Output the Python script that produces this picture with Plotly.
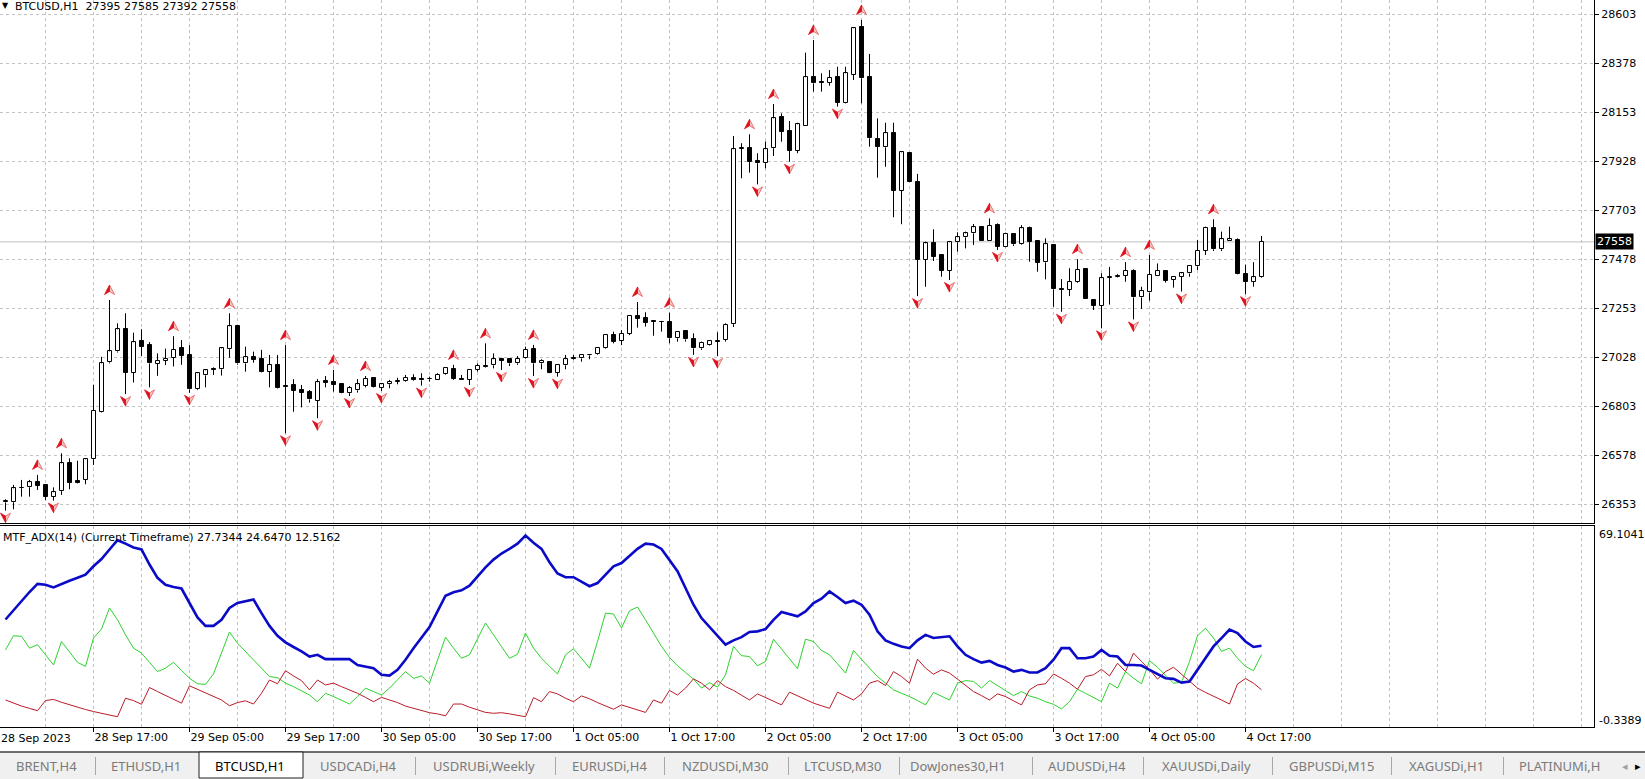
import plotly.graph_objects as go

W, H = 1645, 779

# ---------------- data (hourly bars, 28 Sep 06:00 .. 4 Oct 19:00) ----------------
open_ = [26362, 26362, 26429, 26431, 26454, 26440, 26388, 26413, 26541, 26460,
         26465, 26560, 26778, 27005, 27055, 27156, 26956, 27103, 27084, 26998,
         27013, 27025, 27070, 27037, 26881, 26945, 26976, 26973, 27065, 27170,
         27000, 27031, 27020, 26962, 26993, 26895, 26901, 26878, 26867, 26829,
         26919, 26913, 26905, 26863, 26876, 26898, 26933, 26888, 26904, 26915,
         26919, 26933, 26930, 26927, 26926, 26950, 26973, 26928, 26924, 26970,
         26990, 26991, 27022, 27019, 27000, 27023, 27065, 27000, 27008, 26958,
         26991, 27023, 27023, 27037, 27043, 27069, 27130, 27104, 27135, 27218,
         27207, 27195, 27192, 27189, 27115, 27149, 27110, 27069, 27084, 27104,
         27107, 27180, 27985, 27990, 27928, 27919, 27988, 28130, 28067, 27977,
         28091, 28314, 28292, 28289, 28314, 28197, 28324, 28543, 28314, 28029,
         27992, 28057, 27793, 27965, 27832, 27475, 27551, 27498, 27426, 27556,
         27579, 27597, 27628, 27563, 27635, 27533, 27594, 27547, 27620, 27562,
         27464, 27544, 27342, 27337, 27374, 27432, 27291, 27265, 27393, 27396,
         27403, 27426, 27303, 27326, 27403, 27424, 27383, 27398, 27413, 27446,
         27516, 27623, 27524, 27563, 27566, 27411, 27375, 27395]
high = [26376, 26442, 26465, 26465, 26488, 26441, 26431, 26587, 26564, 26553,
        26563, 26901, 27030, 27291, 27184, 27230, 27141, 27157, 27098, 27046,
        27068, 27125, 27107, 27084, 26958, 26972, 26982, 27072, 27230, 27175,
        27077, 27054, 27062, 27039, 27039, 27084, 26928, 26901, 26878, 26928,
        26942, 26970, 26910, 26896, 26928, 26942, 26937, 26909, 26924, 26934,
        26947, 26950, 26955, 26939, 26955, 26982, 26993, 26947, 26973, 27000,
        27092, 27046, 27026, 27021, 27034, 27077, 27085, 27019, 27011, 26996,
        27039, 27039, 27043, 27042, 27069, 27135, 27146, 27153, 27222, 27282,
        27235, 27199, 27195, 27233, 27146, 27150, 27138, 27100, 27107, 27143,
        27184, 28044, 28011, 28052, 27965, 28019, 28191, 28148, 28113, 28105,
        28427, 28485, 28332, 28347, 28362, 28362, 28542, 28577, 28421, 28125,
        28105, 28105, 27972, 27967, 27870, 27559, 27616, 27500, 27559, 27602,
        27605, 27640, 27631, 27666, 27643, 27600, 27597, 27635, 27628, 27566,
        27574, 27546, 27387, 27437, 27479, 27437, 27293, 27414, 27443, 27410,
        27465, 27432, 27352, 27498, 27459, 27426, 27401, 27415, 27452, 27567,
        27628, 27662, 27605, 27628, 27574, 27453, 27465, 27585]
low = [26324, 26330, 26388, 26388, 26419, 26373, 26370, 26396, 26422, 26449,
       26445, 26534, 26775, 27000, 27050, 26859, 26912, 27034, 26890, 26943,
       26992, 26986, 26993, 26865, 26877, 26890, 26947, 26944, 27026, 26994,
       26962, 27003, 26959, 26890, 26884, 26679, 26778, 26798, 26820, 26748,
       26890, 26870, 26863, 26850, 26866, 26890, 26888, 26873, 26886, 26904,
       26916, 26919, 26898, 26916, 26924, 26947, 26924, 26924, 26901, 26962,
       26981, 26977, 26970, 26988, 26993, 27020, 26942, 26973, 26955, 26939,
       26973, 27016, 27008, 27019, 27040, 27066, 27092, 27084, 27130, 27164,
       27169, 27127, 27146, 27092, 27100, 27100, 27039, 27062, 27082, 27034,
       27100, 27167, 27850, 27876, 27822, 27896, 27952, 28018, 27926, 27965,
       28091, 28248, 28248, 28275, 28179, 28194, 28301, 28194, 27995, 27853,
       27903, 27671, 27639, 27832, 27309, 27352, 27470, 27398, 27383, 27513,
       27528, 27544, 27562, 27562, 27521, 27532, 27539, 27544, 27467, 27421,
       27386, 27260, 27237, 27309, 27370, 27294, 27245, 27161, 27270, 27394,
       27375, 27202, 27250, 27288, 27401, 27371, 27348, 27330, 27398, 27429,
       27498, 27516, 27516, 27562, 27409, 27318, 27352, 27392]
close = [26366, 26426, 26427, 26454, 26439, 26388, 26408, 26541, 26451, 26451,
         26560, 26783, 27000, 27055, 27156, 26956, 27097, 27077, 27000, 27013,
         27022, 27062, 27036, 26881, 26955, 26968, 26970, 27069, 27170, 27000,
         27028, 27016, 26962, 26993, 26886, 26893, 26875, 26865, 26835, 26913,
         26911, 26901, 26865, 26886, 26904, 26928, 26890, 26904, 26916, 26919,
         26933, 26922, 26922, 26929, 26947, 26979, 26928, 26926, 26970, 26988,
         26985, 27019, 27012, 27000, 27020, 27062, 27000, 27011, 26958, 26993,
         27019, 27019, 27039, 27039, 27069, 27130, 27100, 27135, 27219, 27205,
         27187, 27190, 27190, 27115, 27146, 27110, 27069, 27095, 27103, 27100,
         27176, 27983, 27990, 27926, 27919, 27983, 28125, 28064, 27977, 28098,
         28314, 28286, 28289, 28312, 28197, 28332, 28539, 28309, 28034, 27995,
         28057, 27793, 27969, 27834, 27475, 27551, 27490, 27426, 27556, 27579,
         27597, 27625, 27563, 27631, 27536, 27594, 27547, 27620, 27559, 27462,
         27547, 27340, 27337, 27374, 27429, 27294, 27265, 27391, 27396, 27403,
         27424, 27303, 27332, 27407, 27424, 27380, 27398, 27413, 27449, 27516,
         27623, 27524, 27570, 27570, 27411, 27375, 27395, 27558]

up_fractals = [4, 7, 13, 21, 28, 35, 41, 45, 56, 60, 66, 79, 83, 93, 96, 101, 107,
               123, 134, 140, 143, 151]
down_fractals = [0, 6, 15, 18, 23, 35, 39, 43, 47, 52, 58, 62, 66, 69, 86, 89, 94, 98,
                 104, 114, 118, 124, 132, 137, 141, 147, 155]

adx = [36.8, 40.0, 43.1, 46.3, 49.1, 48.8, 47.9, 49.1, 50.2, 51.2,
       52.3, 55.2, 57.7, 61.0, 64.2, 63.0, 61.7, 61.0, 55.8, 51.2,
       48.8, 48.0, 47.5, 42.5, 37.5, 34.6, 34.6, 36.7, 40.8, 42.5,
       43.1, 43.7, 39.0, 34.6, 31.2, 28.9, 27.3, 25.8, 24.0, 24.6,
       23.1, 23.1, 23.1, 23.1, 21.1, 20.6, 20.0, 17.7, 17.4, 19.4,
       22.9, 26.9, 30.4, 34.2, 39.6, 45.0, 46.2, 46.9, 48.5, 51.7,
       54.8, 57.5, 59.6, 61.2, 63.0, 65.8, 63.3, 61.2, 56.6, 52.7,
       51.4, 51.4, 49.7, 48.3, 49.4, 52.3, 55.2, 56.3, 58.7, 61.2,
       63.0, 62.7, 61.2, 57.5, 53.5, 47.7, 41.9, 37.3, 34.2, 31.0,
       28.1, 29.6, 30.7, 32.5, 32.7, 33.5, 36.7, 39.4, 38.7, 37.9,
       39.6, 42.5, 44.0, 46.5, 44.6, 42.5, 43.3, 41.9, 38.5, 32.7,
       29.6, 28.4, 27.5, 26.9, 29.6, 31.5, 30.4, 30.6, 31.0, 27.5,
       24.6, 23.1, 21.9, 22.5, 21.1, 20.2, 18.8, 19.4, 18.5, 18.5,
       20.0, 22.9, 26.9, 26.9, 23.4, 23.4, 24.0, 26.3, 24.3, 24.0,
       21.1, 21.1, 20.9, 19.4, 18.0, 16.5, 16.3, 15.0, 15.4, 19.4,
       23.8, 27.5, 30.4, 33.3, 32.1, 29.2, 27.3, 27.7344]
plus_di = [26.3, 31.2, 31.0, 26.9, 28.1, 24.6, 21.1, 29.2, 25.4, 22.0,
           20.6, 30.4, 33.5, 40.8, 36.7, 31.5, 26.9, 25.2, 22.0, 18.8,
           20.0, 22.0, 19.2, 16.5, 14.6, 14.4, 18.0, 25.2, 32.5, 28.6,
           25.8, 22.9, 20.0, 17.1, 16.7, 14.8, 13.6, 12.2, 10.7, 8.4,
           11.3, 10.2, 9.0, 7.6, 10.2, 13.1, 11.9, 10.7, 13.1, 15.9,
           18.8, 16.5, 17.3, 14.8, 22.9, 30.7, 26.9, 23.4, 24.6, 30.0,
           35.6, 31.5, 27.5, 23.4, 24.8, 32.1, 26.9, 23.4, 20.6, 18.0,
           24.6, 26.7, 23.4, 20.0, 29.2, 39.0, 38.7, 33.9, 39.8, 41.1,
           36.7, 32.1, 27.5, 23.7, 20.8, 18.5, 16.2, 13.1, 15.0, 13.4,
           17.7, 27.5, 24.3, 24.0, 20.8, 22.3, 30.0, 26.6, 23.1, 19.8,
           30.0, 29.2, 26.1, 24.6, 21.5, 18.3, 26.1, 22.9, 20.0, 17.1,
           14.8, 12.5, 11.3, 10.2, 8.8, 7.3, 11.6, 10.4, 9.0, 14.8,
           15.7, 15.4, 13.1, 15.7, 13.9, 12.3, 10.5, 11.9, 10.4, 9.6,
           8.4, 7.5, 5.9, 8.4, 12.7, 11.3, 9.8, 8.4, 14.8, 13.1,
           18.8, 16.5, 14.6, 22.6, 20.3, 17.7, 14.8, 15.1, 22.3, 31.2,
           33.8, 30.4, 25.8, 26.9, 23.4, 20.6, 19.1, 24.6470]
minus_di = [9.0, 7.9, 6.9, 6.1, 5.3, 8.8, 9.2, 8.2, 7.3, 6.5,
            5.7, 5.0, 4.4, 3.8, 3.2, 9.6, 8.8, 7.5, 13.3, 11.9,
            10.5, 9.2, 7.9, 13.9, 12.7, 11.6, 10.4, 9.0, 7.0, 8.1,
            8.7, 7.6, 11.3, 15.9, 14.6, 19.1, 17.3, 15.7, 12.5, 15.9,
            14.2, 14.8, 13.6, 12.5, 11.3, 9.9, 8.4, 9.9, 9.0, 8.1,
            6.9, 6.1, 5.3, 4.6, 4.2, 3.5, 7.6, 7.6, 6.5, 5.5,
            4.7, 4.4, 4.6, 4.2, 3.8, 3.2, 9.8, 8.4, 11.9, 11.1,
            9.6, 8.4, 10.4, 9.4, 8.1, 6.9, 5.8, 7.3, 6.4, 5.5,
            4.7, 9.0, 7.9, 12.3, 10.7, 13.1, 16.3, 14.8, 12.5, 15.7,
            13.6, 12.3, 10.7, 9.0, 11.1, 9.9, 8.6, 7.3, 11.7, 10.5,
            9.2, 7.9, 7.0, 6.1, 11.7, 10.4, 9.0, 11.1, 14.8, 15.7,
            14.0, 18.8, 17.1, 14.8, 23.1, 20.0, 17.9, 19.4, 18.3, 16.2,
            14.0, 11.9, 10.5, 9.0, 11.1, 10.2, 8.7, 7.3, 12.5, 14.2,
            14.6, 18.0, 16.5, 14.8, 12.7, 17.1, 17.7, 19.6, 17.3, 21.7,
            18.8, 25.2, 22.3, 19.6, 16.2, 18.8, 20.3, 18.0, 15.4, 13.1,
            11.6, 10.4, 9.0, 7.6, 14.5, 16.4, 14.8, 12.5162]

price_ticks = [26353, 26578, 26803, 27028, 27253, 27478, 27703, 27928, 28153, 28378, 28603]
time_tick_bars = [11, 23, 35, 47, 59, 71, 83, 95, 107, 119, 131, 143, 155]
time_tick_labels = ["28 Sep 17:00", "29 Sep 05:00", "29 Sep 17:00", "30 Sep 05:00",
                    "30 Sep 17:00", "1 Oct 05:00", "1 Oct 17:00", "2 Oct 05:00",
                    "2 Oct 17:00", "3 Oct 05:00", "3 Oct 17:00", "4 Oct 05:00",
                    "4 Oct 17:00"]
first_date_label = "28 Sep 2023"
symbol_title = "BTCUSD,H1"
indicator_title = "MTF_ADX(14) (Current Timeframe)"
sub_max, sub_min = 69.1041, -0.3389
tabs = ["BRENT,H4", "ETHUSD,H1", "BTCUSD,H1", "USDCADi,H4", "USDRUBi,Weekly",
        "EURUSDi,H4", "NZDUSDi,M30", "LTCUSD,M30", "DowJones30,H1", "AUDUSDi,H4",
        "XAUUSDi,Daily", "GBPUSDi,M15", "XAGUSDi,H1", "PLATINUMi,H"]
active_tab = "BTCUSD,H1"

# ---------------- layout geometry (pixels) ----------------
FONT = "DejaVu Sans"
PLOT_R = 1594
MAIN_BOT = 523
SUB_TOP, SUB_BOT = 526, 727
BAR_PX = 8.0
X0_PX = 5.5
GRID = "#c3c3c3"
DASH = "3px,3px"


def px(x):
    return x / W


def py(y):
    return 1 - y / H


n = len(close)
bars = list(range(n))
x_left = -X0_PX / BAR_PX
x_right = x_left + PLOT_R / BAR_PX
main_range = [26353 - (MAIN_BOT - 504.3) * 225 / 49.0, 28603 + 14.3 * 225 / 49.0]
px_per_price = MAIN_BOT / (main_range[1] - main_range[0])
price_per_px = 1 / px_per_price

fig = go.Figure()

# bodies
min_h = 0.6 * price_per_px
bases, heights, fills = [], [], []
for k in bars:
    lo_b = min(open_[k], close[k])
    hgt = abs(close[k] - open_[k])
    if hgt < min_h:
        lo_b -= (min_h - hgt) / 2
        hgt = min_h
    bases.append(lo_b)
    heights.append(hgt)
    fills.append("white" if close[k] >= open_[k] else "black")
fig.add_trace(go.Bar(x=bars, y=heights, base=bases, width=0.5,
                     marker=dict(color=fills, line=dict(color="black", width=1)),
                     hoverinfo="skip", showlegend=False, xaxis="x", yaxis="y"))

# wicks: upper (high -> body top) and lower (body bottom -> low), never crossing the body
wx, wy = [], []
for k in bars:
    top = max(open_[k], close[k])
    bot = min(open_[k], close[k])
    if high[k] > top:
        wx += [k, k, None]
        wy += [top, high[k], None]
    if low[k] < bot:
        wx += [k, k, None]
        wy += [low[k], bot, None]
fig.add_trace(go.Scatter(x=wx, y=wy, mode="lines", line=dict(color="black", width=1),
                         hoverinfo="skip", showlegend=False, xaxis="x", yaxis="y"))

# fractal arrows (two-tone dart shapes, sized in pixels, anchored on the bar's high/low)
HALF_W, TIP, BASE, NOTCH = 5.0, 5.0, 4.5, 1.5


def arrow_halves(ks, anchor, gap_px, direction):
    # direction +1: pointing up (above the high); -1: pointing down (below the low)
    lx, ly, rx, ry = [], [], [], []
    for k in ks:
        cy = anchor[k] + direction * gap_px * price_per_px

        def P(dx, dy):
            return k + dx / BAR_PX, cy - direction * dy * price_per_px

        pts_l = [P(0, -TIP), P(-HALF_W, BASE), P(0, NOTCH), P(0, -TIP)]
        pts_r = [P(0, -TIP), P(0, NOTCH), P(HALF_W, BASE), P(0, -TIP)]
        for a, b in pts_l:
            lx.append(a); ly.append(b)
        lx.append(None); ly.append(None)
        for a, b in pts_r:
            rx.append(a); ry.append(b)
        rx.append(None); ry.append(None)
    return lx, ly, rx, ry


for ks, anchor, gap, d in [(up_fractals, high, 10, 1), (down_fractals, low, 7, -1)]:
    lx, ly, rx, ry = arrow_halves(ks, anchor, gap, d)
    fig.add_trace(go.Scatter(x=rx, y=ry, mode="lines", fill="toself", fillcolor="#f9c6c6",
                             line=dict(color="#e8545a", width=0.8),
                             hoverinfo="skip", showlegend=False, xaxis="x", yaxis="y"))
    fig.add_trace(go.Scatter(x=lx, y=ly, mode="lines", fill="toself", fillcolor="#e0101a",
                             line=dict(color="#e0101a", width=0.8),
                             hoverinfo="skip", showlegend=False, xaxis="x", yaxis="y"))

# ADX subwindow
fig.add_trace(go.Scatter(x=bars, y=plus_di, mode="lines", line=dict(color="#2ed12e", width=1),
                         hoverinfo="skip", showlegend=False, xaxis="x2", yaxis="y2"))
fig.add_trace(go.Scatter(x=bars, y=minus_di, mode="lines", line=dict(color="#b81c28", width=1),
                         hoverinfo="skip", showlegend=False, xaxis="x2", yaxis="y2"))
fig.add_trace(go.Scatter(x=bars, y=adx, mode="lines", line=dict(color="#0a0ac8", width=2.6),
                         hoverinfo="skip", showlegend=False, xaxis="x2", yaxis="y2"))

minor_grid = [k for k in range(5, int(x_right) + 1, 6) if k not in time_tick_bars]

common_x = dict(range=[x_left, x_right], domain=[0, px(PLOT_R)], zeroline=False,
                tickmode="array", tickvals=time_tick_bars, ticktext=time_tick_labels,
                showgrid=True, gridcolor=GRID, griddash=DASH, gridwidth=1,
                minor=dict(tickmode="array", tickvals=minor_grid, showgrid=True,
                           gridcolor=GRID, griddash=DASH, gridwidth=1, ticks=""),
                showline=True, linecolor="black", linewidth=1, fixedrange=True)

layout = dict(
    width=W, height=H, autosize=False,
    margin=dict(l=0, r=0, t=0, b=0, pad=0),
    paper_bgcolor="white", plot_bgcolor="white",
    showlegend=False, hovermode=False, bargap=0, bargroupgap=0,
    font=dict(family=FONT, size=11, color="black"),
    xaxis=dict(**common_x, anchor="y", showticklabels=False, ticks=""),
    xaxis2=dict(**common_x, anchor="y2", matches="x", showticklabels=True,
                ticks="outside", ticklen=4, tickcolor="black", mirror=True,
                ticklabelposition="outside right",
                tickfont=dict(family=FONT, size=11, color="black")),
    yaxis=dict(domain=[py(MAIN_BOT), 1], range=main_range, side="right", anchor="x",
               tickmode="array", tickvals=price_ticks, ticktext=[str(v) for v in price_ticks],
               ticks="outside", ticklen=4, tickcolor="black",
               showgrid=True, gridcolor=GRID, griddash=DASH, gridwidth=1,
               showline=True, linecolor="black", linewidth=1, zeroline=False,
               tickfont=dict(family=FONT, size=11, color="black"), fixedrange=True),
    yaxis2=dict(domain=[py(SUB_BOT), py(SUB_TOP)], range=[sub_min, sub_max], side="right",
                anchor="x2", showgrid=False, showticklabels=False, ticks="",
                showline=True, linecolor="black", linewidth=1, zeroline=False,
                fixedrange=True),
)
fig.update_layout(**layout)

shapes = []
annotations = []

# current price line + label
last = close[-1]
shapes.append(dict(type="line", xref="paper", yref="y", x0=0, x1=px(PLOT_R), y0=last, y1=last,
                   line=dict(color="#c0c0c0", width=1), layer="below"))
annotations.append(dict(xref="paper", yref="y", x=px(PLOT_R + 1), y=last, text=str(last),
                        showarrow=False, xanchor="left", yanchor="middle",
                        bgcolor="black", font=dict(color="white", size=11, family=FONT),
                        borderpad=1))

# headers
annotations.append(dict(xref="paper", yref="paper", x=px(0), y=py(5), text="\u25bc",
                        showarrow=False, xanchor="left", yanchor="middle",
                        font=dict(size=8, family=FONT, color="black")))
ohlc_txt = f"{open_[-1]} {high[-1]} {low[-1]} {close[-1]}"
annotations.append(dict(xref="paper", yref="paper", x=px(13), y=py(6),
                        text=f"{symbol_title}  {ohlc_txt}", showarrow=False,
                        xanchor="left", yanchor="middle", font=dict(size=11, family=FONT)))
annotations.append(dict(xref="paper", yref="paper", x=px(1), y=py(537),
                        text=f"{indicator_title} {adx[-1]:.4f} {plus_di[-1]:.4f} {minus_di[-1]:.4f}",
                        showarrow=False, xanchor="left", yanchor="middle",
                        font=dict(size=11, family=FONT)))
annotations.append(dict(xref="paper", yref="paper", x=px(PLOT_R + 3), y=py(534),
                        text=f"{sub_max:.4f}", showarrow=False, xanchor="left",
                        yanchor="middle", font=dict(size=11, family=FONT)))
annotations.append(dict(xref="paper", yref="paper", x=px(PLOT_R + 3), y=py(720),
                        text=f"{sub_min:.4f}", showarrow=False, xanchor="left",
                        yanchor="middle", font=dict(size=11, family=FONT)))
annotations.append(dict(xref="paper", yref="paper", x=px(-1), y=py(738),
                        text=first_date_label, showarrow=False, xanchor="left",
                        yanchor="middle", font=dict(size=11, family=FONT)))

# tab bar
TAB_TOP = 752
shapes.append(dict(type="rect", xref="paper", yref="paper", x0=0, x1=1, y0=py(H), y1=py(TAB_TOP),
                   fillcolor="#f0f0f0", line=dict(width=0), layer="above"))
shapes.append(dict(type="line", xref="paper", yref="paper", x0=0, x1=1, y0=py(TAB_TOP),
                   y1=py(TAB_TOP), line=dict(color="#404040", width=1.5), layer="above"))
tab_centers = [46, 146, 250, 358, 484, 609, 725, 843, 958, 1087, 1206, 1331, 1446, 1517]
separators = [95.5, 415.5, 555.5, 664.5, 788.5, 899.5, 1032.5, 1143.5, 1272.5, 1391.5, 1503.5]
shapes.append(dict(type="rect", xref="paper", yref="paper", x0=px(199), x1=px(303),
                   y0=py(778), y1=py(TAB_TOP), fillcolor="white",
                   line=dict(color="#202020", width=1), layer="above"))
for s in separators:
    shapes.append(dict(type="line", xref="paper", yref="paper", x0=px(s), x1=px(s),
                       y0=py(757), y1=py(775), line=dict(color="#a8a8a8", width=1),
                       layer="above"))
for name, cx in zip(tabs, tab_centers):
    last_tab = name == tabs[-1]
    annotations.append(dict(xref="paper", yref="paper", x=px(cx), y=py(766), text=name,
                            showarrow=False, xanchor="left" if last_tab else "center",
                            yanchor="middle",
                            font=dict(size=13, family="Noto Sans",
                                      color="black" if name == active_tab else "#7a7a7a")))
annotations.append(dict(xref="paper", yref="paper", x=px(1625), y=py(766), text="\u25c2",
                        showarrow=False, xanchor="center", yanchor="middle",
                        font=dict(size=11, family=FONT, color="#a0a0a0")))
annotations.append(dict(xref="paper", yref="paper", x=px(1638), y=py(766), text="\u25b8",
                        showarrow=False, xanchor="center", yanchor="middle",
                        font=dict(size=11, family=FONT, color="black")))

fig.update_layout(shapes=shapes, annotations=annotations)
fig.write_html("out.html", config={"displayModeBar": False})
